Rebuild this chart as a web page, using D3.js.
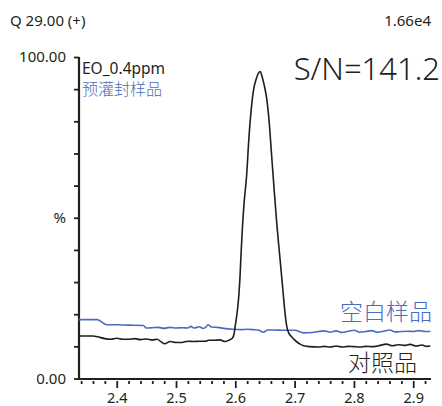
<!DOCTYPE html>
<html>
<head>
<meta charset="utf-8">
<script src="https://cdn.jsdelivr.net/npm/d3@7"></script>
<style>
  body { margin: 0; background: #fff; }
  text { font-family: "Noto Sans", "Noto Sans CJK SC", sans-serif; fill: #231f20; }
</style>
</head>
<body>
<div id="chart"></div>
<script>
const blankTime = [2.336, 2.367, 2.383, 2.40, 2.42, 2.445, 2.45, 2.46, 2.47, 2.48, 2.49, 2.50, 2.51, 2.52, 2.525, 2.53, 2.54, 2.545, 2.55, 2.554, 2.56, 2.57, 2.58, 2.596, 2.61, 2.62, 2.63, 2.64, 2.647, 2.655, 2.665, 2.68, 2.70, 2.715, 2.73, 2.74, 2.75, 2.76, 2.77, 2.78, 2.79, 2.80, 2.81, 2.82, 2.83, 2.84, 2.85, 2.86, 2.87, 2.88, 2.89, 2.90, 2.91, 2.92, 2.929];
const blankValue = [18.3, 18.3, 16.7, 16.7, 16.6, 16.5, 15.7, 15.8, 15.9, 15.6, 15.9, 15.7, 15.8, 15.7, 16.2, 15.7, 16.1, 15.6, 15.9, 16.7, 16.0, 15.9, 15.6, 15.3, 15.2, 15.3, 15.2, 15.0, 14.4, 15.1, 15.1, 15.0, 15.0, 14.2, 14.3, 14.6, 14.8, 14.4, 14.8, 14.3, 14.7, 15.0, 14.4, 14.6, 14.9, 14.4, 14.7, 15.1, 14.5, 14.6, 14.7, 14.6, 14.9, 14.6, 14.6];

const refTime = [2.336, 2.360, 2.367, 2.380, 2.39, 2.40, 2.41, 2.42, 2.43, 2.44, 2.45, 2.46, 2.468, 2.475, 2.481, 2.49, 2.50, 2.51, 2.52, 2.53, 2.54, 2.55, 2.555, 2.565, 2.574, 2.583, 2.590,
  2.595, 2.598, 2.600, 2.602, 2.604, 2.606, 2.608, 2.610, 2.612, 2.615, 2.619, 2.623, 2.627, 2.631, 2.635, 2.639, 2.642, 2.645, 2.649, 2.653, 2.657, 2.661, 2.665, 2.670, 2.675, 2.680, 2.684, 2.687, 2.690, 2.695, 2.700, 2.705, 2.710, 2.715, 2.725,
  2.74, 2.75, 2.76, 2.77, 2.78, 2.79, 2.80, 2.81, 2.82, 2.83, 2.84, 2.855, 2.865, 2.875, 2.885, 2.895, 2.905, 2.915, 2.922, 2.929];
const refValue = [13.2, 13.2, 13.0, 12.4, 12.2, 12.5, 12.2, 12.2, 12.4, 12.1, 12.3, 12.0, 12.2, 11.4, 10.8, 11.5, 11.2, 11.2, 11.6, 11.5, 11.6, 11.6, 11.9, 11.9, 12.0, 11.5, 12.0,
  12.5, 14.0, 16.5, 19.0, 22.0, 26.0, 32.0, 40.0, 47.0, 55.0, 63.0, 75.0, 84.0, 90.0, 93.0, 95.0, 95.5, 94.0, 91.0, 87.0, 80.0, 70.0, 60.0, 48.0, 38.0, 28.0, 20.0, 16.0, 14.2, 13.0, 12.0, 11.2, 10.6, 10.2, 9.9,
  9.8, 10.0, 9.8, 10.1, 9.8, 10.0, 9.9, 9.8, 10.0, 9.9, 10.1, 10.7, 10.2, 10.5, 10.3, 10.6, 10.1, 10.4, 10.0, 10.1];

const xTicks = [2.4, 2.5, 2.6, 2.7, 2.8, 2.9];
const yLabels = ["0.00", "%", "100.00"];

const blankSeries = blankTime.map((t, i) => ({ t: t, v: blankValue[i] }));
const refSeries = refTime.map((t, i) => ({ t: t, v: refValue[i] }));

const width = 442, height = 406;
const blue = "#4a6cbf";

const svg = d3.select("#chart").append("svg")
  .attr("width", width)
  .attr("height", height);

// Échelles
const x = d3.scaleLinear().domain([2.3364, 2.930]).range([79, 431]);
const y = d3.scaleLinear().domain([0, 100]).range([378.5, 57]);

// Axe vertical : graduations tous les 10 %
svg.append("g")
  .attr("transform", "translate(79,0)")
  .call(d3.axisLeft(y).tickValues(d3.range(0, 101, 10)).tickSize(5).tickFormat(""))
  .call(g => g.select(".domain").attr("stroke", "#231f20").attr("stroke-width", 2.2).attr("d", "M0," + y(100) + "V" + y(0)))
  .call(g => g.selectAll(".tick line").attr("stroke", "#231f20").attr("stroke-width", 1.8));

svg.append("g")
  .selectAll("text")
  .data([0, 50, 100])
  .join("text")
  .attr("x", 66)
  .attr("y", d => y(d) + 5)
  .attr("text-anchor", "end")
  .style("font-size", "15px")
  .text((d, i) => yLabels[i]);

// Axe horizontal : petites graduations tous les 0.02, grandes tous les 0.1
const minor = d3.range(2.34, 2.93, 0.02).filter(v => !xTicks.some(t => Math.abs(t - v) < 1e-6));
svg.append("g")
  .attr("transform", "translate(0,379)")
  .call(d3.axisBottom(x).tickValues(minor).tickSize(5).tickFormat(""))
  .call(g => g.select(".domain").attr("stroke", "#231f20").attr("stroke-width", 2.2).attr("d", "M" + (x.range()[0] - 1) + ",0H" + x.range()[1]))
  .call(g => g.selectAll(".tick line").attr("stroke", "#231f20").attr("stroke-width", 1.8).attr("y1", 2));

svg.append("g")
  .attr("transform", "translate(0,379)")
  .call(d3.axisBottom(x).tickValues(xTicks).tickSize(9).tickPadding(5).tickFormat(d3.format(".1f")))
  .call(g => g.select(".domain").remove())
  .call(g => g.selectAll(".tick line").attr("stroke", "#231f20").attr("stroke-width", 1.8).attr("y1", 2))
  .call(g => g.selectAll(".tick text").style("font-size", "14.5px").style("font-family", "'Noto Sans', sans-serif").attr("fill", "#231f20"));

// Courbes
const line = d3.line()
  .x(d => x(d.t))
  .y(d => y(d.v))
  .curve(d3.curveMonotoneX);

svg.append("path")
  .datum(blankSeries)
  .attr("fill", "none")
  .attr("stroke", blue)
  .attr("stroke-width", 1.6)
  .attr("d", line);

svg.append("path")
  .datum(refSeries)
  .attr("fill", "none")
  .attr("stroke", "#1e1e1e")
  .attr("stroke-width", 1.6)
  .attr("d", line);

// Textes
svg.append("text").attr("x", 10).attr("y", 26).style("font-size", "15px").text("Q 29.00 (+)");
svg.append("text").attr("x", 431).attr("y", 26).attr("text-anchor", "end").style("font-size", "15px").text("1.66e4");
svg.append("text").attr("x", 82).attr("y", 74).style("font-size", "15.5px").text("EO_0.4ppm");
svg.append("text").attr("x", 82).attr("y", 95).style("font-size", "16px").style("font-weight", 300).style("fill", blue).text("预灌封样品");
svg.append("text").attr("x", 440).attr("y", 80).attr("text-anchor", "end")
  .style("font-size", "31px").style("font-weight", 300).text("S/N=141.2");
svg.append("text").attr("x", 432).attr("y", 320).attr("text-anchor", "end")
  .style("font-size", "23px").style("font-weight", 300).style("fill", blue).text("空白样品");
svg.append("text").attr("x", 417).attr("y", 371).attr("text-anchor", "end")
  .style("font-size", "23px").style("font-weight", 300).text("对照品");
</script>
</body>
</html>
